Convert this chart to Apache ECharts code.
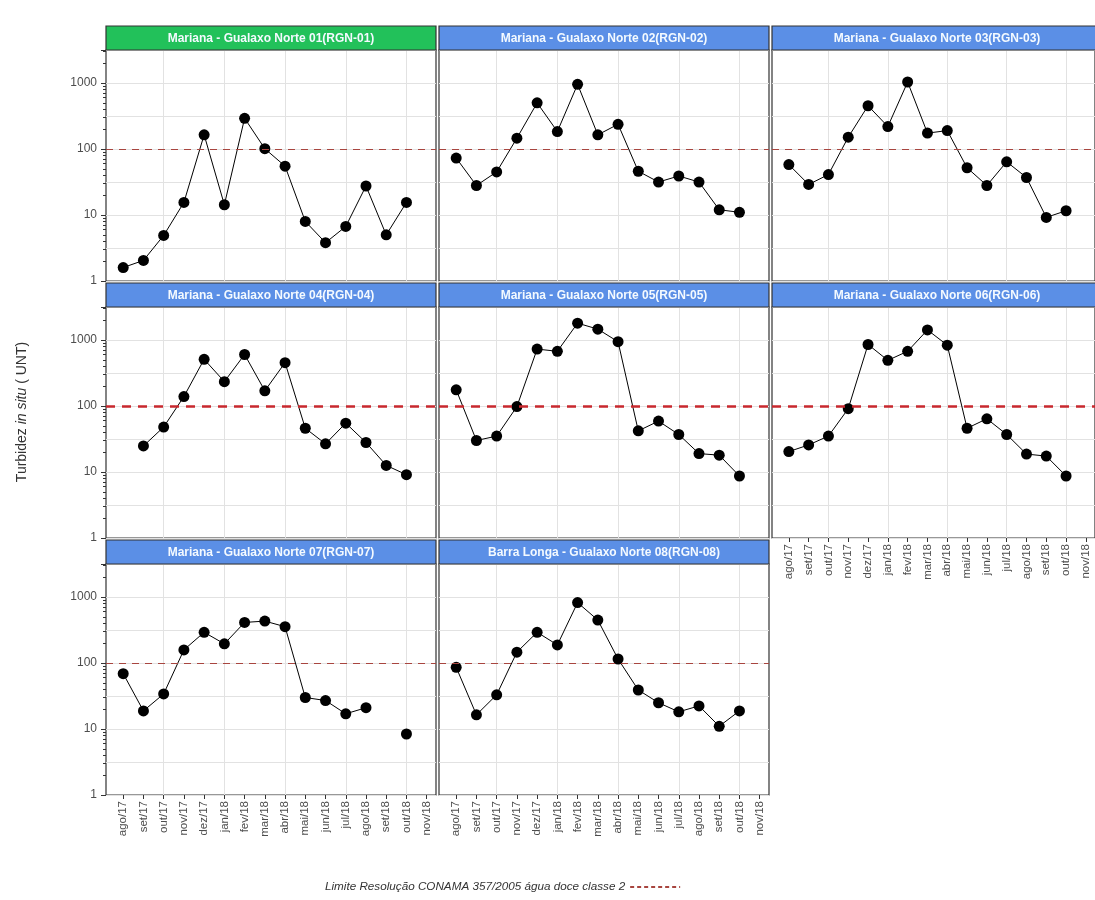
<!DOCTYPE html>
<html><head><meta charset="utf-8">
<script src="https://cdn.jsdelivr.net/npm/echarts@6/dist/echarts.min.js"></script>
<style>html,body{margin:0;padding:0;background:#fff}#c{width:1095px;height:900px}</style>
</head><body><div id="c"></div>
<script>
// ---------- data ----------
const months = ['ago/17','set/17','out/17','nov/17','dez/17','jan/18','fev/18','mar/18','abr/18','mai/18','jun/18','jul/18','ago/18','set/18','out/18','nov/18'];
const panelTitles = [
  'Mariana - Gualaxo Norte 01(RGN-01)',
  'Mariana - Gualaxo Norte 02(RGN-02)',
  'Mariana - Gualaxo Norte 03(RGN-03)',
  'Mariana - Gualaxo Norte 04(RGN-04)',
  'Mariana - Gualaxo Norte 05(RGN-05)',
  'Mariana - Gualaxo Norte 06(RGN-06)',
  'Mariana - Gualaxo Norte 07(RGN-07)',
  'Barra Longa - Gualaxo Norte 08(RGN-08)'
];
const rgn01 = [1.6, 2.05, 4.9, 15.5, 164, 14.3, 292, 101, 55, 8.0, 3.8, 6.7, 27.5, 5.0, 15.5, null];
const rgn02 = [73, 28, 45, 146, 500, 184, 955, 164, 237, 46, 31.6, 39, 31.6, 12, 11, null];
const rgn03 = [58, 29, 41, 151, 452, 219, 1035, 174, 190, 52, 28, 64, 37, 9.2, 11.6, null];
const rgn04 = [null, 24.8, 48, 139, 510, 234, 603, 170, 453, 46, 26.7, 55, 28, 12.6, 9.1, null];
const rgn05 = [176, 30, 35, 98, 728, 675, 1800, 1460, 942, 42, 59, 37, 19, 18, 8.7, null];
const rgn06 = [20.4, 25.7, 35, 91, 855, 492, 675, 1420, 836, 46, 64, 37, 18.7, 17.4, 8.7, null];
const rgn07 = [69, 18.8, 34, 158, 292, 195, 412, 431, 355, 30, 27, 17, 21, null, 8.4, null];
const rgn08 = [86, 16.4, 33, 146, 292, 188, 822, 447, 115, 39, 25, 18.2, 22.4, 11, 18.8, null];
const yTickLabels = [1, 10, 100, 1000];
const yMinorGrid = [3.1623, 31.623, 316.23];
const yMinorTicks = [2,3,4,5,6,7,8,9,20,30,40,50,60,70,80,90,200,300,400,500,600,700,800,900,2000,3000];
const quarterIdx = [2, 5, 8, 11, 14];
const threshold = 100;
const legendLabel = 'Limite Resolução CONAMA 357/2005 água doce classe 2';

const panelValues = [rgn01, rgn02, rgn03, rgn04, rgn05, rgn06, rgn07, rgn08];

// ---------- layout / style ----------
const FONT = '"Liberation Sans", Arial, sans-serif';
const colLeft = [106, 439, 772];
const rowTop = [26, 283, 540];
const panelW = 330, headH = 24, plotH = 231;
const yMax = Math.pow(10, 3.5);
const xMin = -0.85, xMax = 15.46;
const headerColors = ['#22c15a', '#5b8fe6', '#5b8fe6', '#5b8fe6', '#5b8fe6', '#5b8fe6', '#5b8fe6', '#5b8fe6'];
const xLabelled = [5, 6, 7];
const thickRow = 1;

const grid = [], xAxis = [], yAxis = [], series = [], graphic = [];
const idxArr = months.map((m, i) => i);

panelValues.forEach((vals, p) => {
  const col = p % 3, row = Math.floor(p / 3);
  const left = colLeft[col], top = rowTop[row] + headH;
  grid.push({left: left, top: top, width: panelW, height: plotH, show: true,
    borderColor: '#333', borderWidth: 1.2, backgroundColor: '#fff', containLabel: false});
  const lab = xLabelled.includes(p);
  xAxis.push({type: 'value', gridIndex: p, min: xMin, max: xMax, position: 'bottom',
    axisLine: {show: false, onZero: false}, splitLine: {show: false},
    axisTick: {show: lab, customValues: idxArr, length: 4, lineStyle: {color: '#333'}},
    axisLabel: {show: lab, customValues: idxArr, rotate: 90, fontSize: 11.5, color: '#4d4d4d',
      fontFamily: FONT, margin: 6, formatter: v => months[Math.round(v)] || ''}});
  yAxis.push({type: 'log', gridIndex: p, min: 1, max: yMax, logBase: 10, splitNumber: 3, position: 'left',
    axisLine: {show: false, onZero: false},
    axisTick: {show: col === 0, length: 5, lineStyle: {color: '#333'}},
    axisLabel: {show: col === 0, fontSize: 12, color: '#4d4d4d', fontFamily: FONT, margin: 9,
      formatter: v => yTickLabels.find(t => Math.abs(t - v) / t < 1e-6) !== undefined ? String(Math.round(v)) : ''},
    splitLine: {show: true, lineStyle: {color: '#e2e2e2', width: 1}}});
  // background grid lines (quarterly verticals + log mid-decade horizontals)
  series.push({type: 'line', xAxisIndex: p, yAxisIndex: p, data: [], silent: true, z: 0,
    markLine: {silent: true, symbol: 'none', z: 1, animation: false, label: {show: false},
      lineStyle: {color: '#e2e2e2', width: 1, type: 'solid'},
      emphasis: {disabled: true},
      data: quarterIdx.map(i => ({xAxis: i})).concat(yMinorGrid.map(v => ({yAxis: v})))}});
  const thick = row === thickRow;
  series.push({type: 'line', name: panelTitles[p], xAxisIndex: p, yAxisIndex: p, z: 3,
    data: vals.map((v, i) => [i, v]), connectNulls: false,
    symbol: 'circle', symbolSize: 11, showSymbol: true,
    lineStyle: {color: '#000', width: 1}, itemStyle: {color: '#000'},
    animation: false,
    markLine: {silent: true, symbol: 'none', animation: false, label: {show: false},
      lineStyle: {color: thick ? '#c8282e' : '#a8453f', width: thick ? 2.6 : 1.2, type: thick ? [9, 7] : [7, 6]},
      data: [{yAxis: threshold}]}});
  graphic.push({type: 'rect', shape: {x: left, y: rowTop[row], width: panelW, height: headH},
    style: {fill: headerColors[p], stroke: '#333', lineWidth: 1.2}, z: 10, silent: true});
  graphic.push({type: 'text', x: left + panelW / 2, y: rowTop[row] + headH / 2 + 1, z: 11, silent: true,
    style: {text: panelTitles[p], fill: '#f4faff', fontSize: 12, fontWeight: 'bold', fontFamily: FONT,
      textAlign: 'center', textVerticalAlign: 'middle'}});
});

// minor log ticks on the left column
[0, 3, 6].forEach(p => {
  yAxis.push({type: 'log', gridIndex: p, min: 1, max: yMax, logBase: 10, position: 'left', offset: 0,
    axisLine: {show: false, onZero: false}, axisLabel: {show: false}, splitLine: {show: false},
    axisTick: {show: true, customValues: yMinorTicks, length: 3, lineStyle: {color: '#333'}}});
});

// legend dummy series for the threshold line
series.push({type: 'line', name: legendLabel, xAxisIndex: 0, yAxisIndex: 0, data: [],
  symbol: 'none', lineStyle: {type: [4, 3], color: '#a8453f', width: 1.2}, itemStyle: {color: '#a8453f'}});

// y-axis title
graphic.push({type: 'text', x: 22, y: 412, rotation: Math.PI / 2, silent: true,
  style: {text: '{a|Turbidez }{b|in situ}{a| ( UNT)}', textAlign: 'center', textVerticalAlign: 'middle',
    rich: {a: {fontSize: 14, fill: '#333', fontFamily: FONT, color: '#333'},
           b: {fontSize: 14, fill: '#333', fontFamily: FONT, fontStyle: 'italic', color: '#333'}}}});

const chart = echarts.init(document.getElementById('c'), null, {renderer: 'canvas'});
chart.setOption({
  animation: false,
  backgroundColor: '#fff',
  grid, xAxis, yAxis, series, graphic,
  legend: {data: [legendLabel], left: 320, top: 876, align: 'right', selectedMode: false,
    itemWidth: 50, itemHeight: 12,
    itemStyle: {opacity: 0},
    textStyle: {fontStyle: 'italic', fontSize: 11.7, color: '#333', fontFamily: FONT}}
});
</script></body></html>
